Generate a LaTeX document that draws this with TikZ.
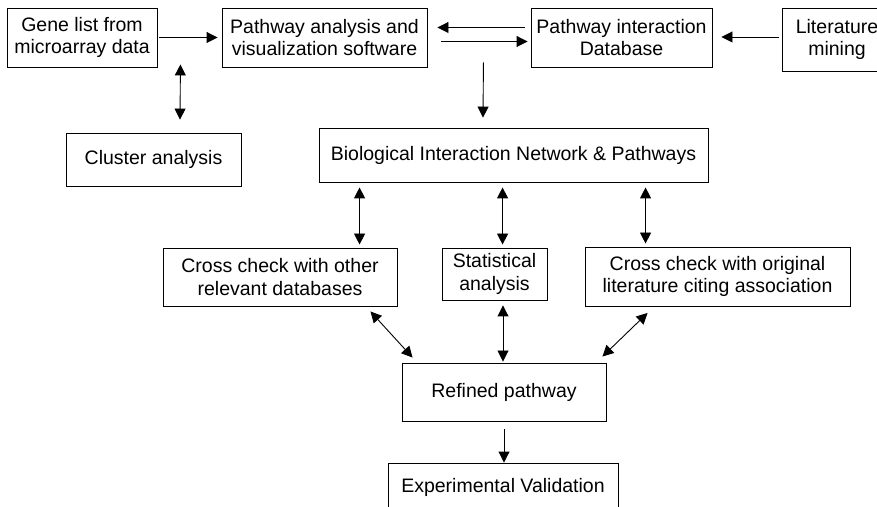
\documentclass[tikz,border=0pt]{standalone}
\usepackage{fontspec}
\setmainfont{Liberation Sans}
\usetikzlibrary{arrows.meta}

\begin{document}
\begin{tikzpicture}[x=1pt, y=1pt,
		box/.style={draw, line width=0.9pt, align=center, inner sep=0pt, font=\fontsize{19.5}{22.5}\selectfont},
		arr/.style={line width=0.9pt, -{Triangle[length=11pt,width=11pt]}},
		dbl/.style={line width=0.9pt, {Triangle[length=11pt,width=11pt]}-{Triangle[length=11pt,width=11pt]}}]
			\useasboundingbox (0,0) rectangle (877,506);
			
			\node[box, minimum width=150, minimum height=59] (gene) at (82,468.5){Gene list from\\microarray data};
			\node[box, minimum width=205, minimum height=59] (pas) at (324.5,468.5){Pathway analysis and\\visualization software};
			\node[box, minimum width=181, minimum height=59] (pid) at (621.5,468.5){Pathway interaction\\Database};
			\node[box, minimum width=110, minimum height=63] (lit) at (837,466.5){Literature\\mining};
			
			\node[box, minimum width=175, minimum height=53] (clu) at (153.5,346.5){Cluster analysis};
			\node[box, minimum width=389, minimum height=54] (bio) at (513.5,351){Biological Interaction Network \& Pathways};
			
			\node[box, minimum width=234, minimum height=58] (crossA) at (280,229){Cross check with other\\relevant databases};
			\node[box, minimum width=105, minimum height=52] (stat) at (494.5,232){Statistical\\analysis};
			\node[box, minimum width=265, minimum height=59] (crossB) at (717.5,229.5){Cross check with original\\literature citing association};
			
			\node[box, minimum width=204, minimum height=58] (ref) at (504,114){Refined pathway};
			\node[box, minimum width=230, minimum height=48] (exp) at (503,19){Experimental Validation};
			
			\draw[arr, shorten <=2pt, shorten >=4pt] (gene) -- (pas);
			\draw[arr] ([shift={(-6,10)}]pid.west) -- ([shift={(10,10)}]pas.east);
			\draw[arr] ([shift={(14,-4)}]pas.east) -- ([shift={(-3,-4)}]pid.west);
			\draw[arr] ([shift={(-3,2.5)}]lit.west) -- ([shift={(9,0.5)}]pid.east);
			
			\draw[dbl] ([shift={(23,3)}]gene.south east) -- ([shift={(26.5,13)}]clu.north);
			\draw[arr] ([shift={(56,5)}]pas.south east) -- ([shift={(-30.5,10)}]bio.north);
			
			\draw[dbl, shorten <=5pt, shorten >=3pt] ([xshift=41pt]bio.south west) -- ([xshift=41pt]bio.south west |- crossA.north);
			\draw[dbl, shorten <=5pt, shorten >=3pt] ([xshift=184pt]bio.south west) -- ([xshift=184pt]bio.south west |- stat.north);
			\draw[dbl, shorten <=5pt, shorten >=3pt] ([xshift=327pt]bio.south west) -- ([xshift=327pt]bio.south west |- crossB.north);
			
			\draw[dbl] ([shift={(-27,-5)}]crossA.south east) -- ([shift={(11,5)}]ref.north west);
			\draw[dbl, shorten <=5pt, shorten >=1pt] ([xshift=8.5pt]stat.south) -- ([xshift=8.5pt]stat.south |- ref.north);
			\draw[dbl] ([shift={(63,-6.5)}]crossB.south west) -- ([shift={(-4,6)}]ref.north east);
			
			\draw[arr, shorten <=8pt] (ref.south) -- (ref.south |- exp.north);
						
		\end{tikzpicture}
\end{document}
